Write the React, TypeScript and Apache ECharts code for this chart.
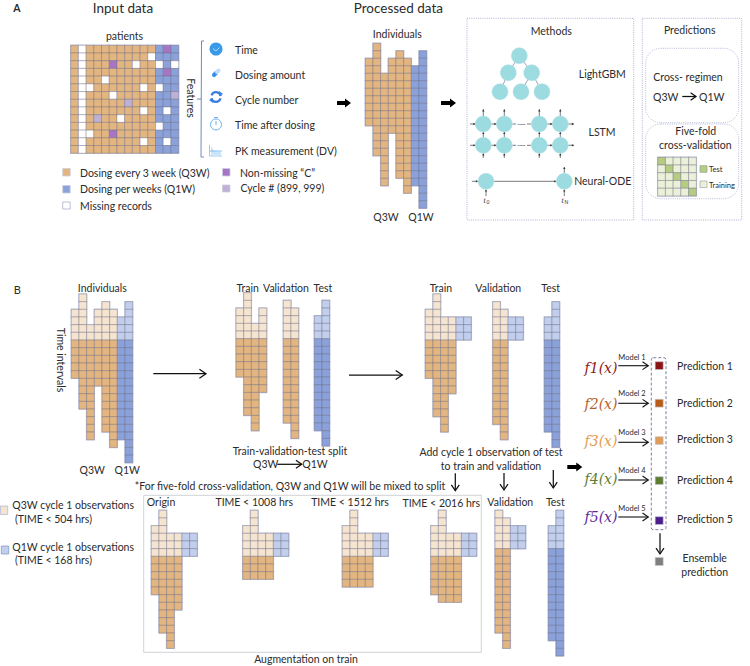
import React, { useEffect, useRef } from "react";
import * as echarts from "echarts";

// ---------- data ----------
const matrixRows = 14;
const matrixQ3WColumns = 11;
const matrixQ1WColumns = 3;
const matrixMissing = [[10,1],[8,2],[11,2],[13,2],[4,4],[2,5],[9,5],[11,5],[5,6],[9,8],[12,8],[6,9],[11,10],[2,11],[9,12],[12,12]];
const matrixMissingColumn = 1;
const matrixNonMissingC = [[12,0],[5,2],[12,3],[5,11]];
const matrixCycle = [[13,6],[7,7],[3,9]];

const allTops = [2,0,4,2,1,2,3,1];
const allBottoms = [11,15,19,12,18,20,19,22];
const splitTrainTops = [2,0,4,2];
const splitTrainBottoms = [11,16,18,13];
const splitValTops = [1,2];
const splitValBottoms = [17,19];
const splitTestTops = [3,1];
const splitTestBottoms = [18,20];
const addedTrainTops = [2,0,3,3];
const addedTrainBottoms = [11,16,18,13];
const addedValTops = [1,2];
const addedValBottoms = [17,19];
const addedTestTops = [3,1];
const addedTestBottoms = [18,20];
const originTops = [2,0,3,3];
const originBottoms = [11,16,18,13];
const t1008Bottoms = [9,9,9,9];
const t1512Bottoms = [10,10,10,10];
const t2016Bottoms = [11,12,12,12];
const finalValTops = [0,1];
const finalValBottoms = [16,18];
const finalTestTops = [2,0];
const finalTestBottoms = [17,19];
const foldSize = 5;

const featureLabels = ["Time","Dosing amount","Cycle number","Time after dosing","PK measurement (DV)"];
const modelLabels = ["Model 1","Model 2","Model 3","Model 4","Model 5"];
const modelFormulas = ["f1(x)","f2(x)","f3(x)","f4(x)","f5(x)"];
const predictionLabels = ["Prediction 1","Prediction 2","Prediction 3","Prediction 4","Prediction 5"];

// ---------- styles ----------
const ORANGE = "#E3B581", BLUE = "#8BA1D9", LORANGE = "#F5E4D0", LBLUE = "#C1CEEC";
const PURPLE = "#A874C4", LPURPLE = "#BFB0D6", WHITE = "#FFFFFF";
const TEXT = "#2b2b2b";
const FONT = "Lato";
const TEAL = "#9CDBE0";

type Cell = [number, number, number, number, string];
const cells: Cell[] = [];
function addCol(x: number, y0: number, ch: number, cw: number, top: number, bottom: number, split: number, dark: string, light: string) {
  for (let r = top; r < bottom; r++) cells.push([x, y0 + r * ch, cw, ch, r < split ? light : dark]);
}
function addBlock(x0: number, y0: number, ch: number, cw: number, tops: number[], bottoms: number[], nQ3: number, split: number) {
  tops.forEach((t, i) => addCol(x0 + i * cw, y0, ch, cw, t, bottoms[i], split, i < nQ3 ? ORANGE : BLUE, i < nQ3 ? LORANGE : LBLUE));
}
function addExtra(x0: number, y0: number, cw: number, nQ3: number, top: number, bottom: number) {
  for (let i = 0; i < 2; i++) addCol(x0 + (nQ3 + i) * cw, y0, cw, cw, top, bottom, 99, BLUE, LBLUE);
}

// Panel A matrix
const mx = 70.7, my = 45.3, mc = 7.71;
for (let c = 0; c < matrixQ3WColumns + matrixQ1WColumns; c++) for (let r = 0; r < matrixRows; r++) {
  let col = c < matrixQ3WColumns ? ORANGE : BLUE;
  if (c === matrixMissingColumn) col = WHITE;
  if (matrixMissing.some(m => m[0] === c && m[1] === r)) col = WHITE;
  if (matrixNonMissingC.some(m => m[0] === c && m[1] === r)) col = PURPLE;
  if (matrixCycle.some(m => m[0] === c && m[1] === r)) col = LPURPLE;
  cells.push([mx + c * mc, my + r * mc, mc, mc, col]);
}
const C = 7.67;
addBlock(365.3, 43.3, 7.5, 7.67, allTops, allBottoms, 6, -1);
addBlock(71.3, 294, C, C, allTops, allBottoms, 6, 6);
addBlock(236, 292.7, C, C, splitTrainTops, splitTrainBottoms, 4, 6);
addBlock(283.3, 292.7, C, C, splitValTops, splitValBottoms, 2, 6);
addBlock(314.3, 292.7, C, C, splitTestTops, splitTestBottoms, 0, 6);
addBlock(425.3, 294, C, C, addedTrainTops, addedTrainBottoms, 4, 6); addExtra(425.3, 294, C, 4, 3, 6);
addBlock(492.7, 294, C, C, addedValTops, addedValBottoms, 2, 6); addExtra(492.7, 294, C, 2, 3, 6);
addBlock(544.3, 294, C, C, addedTestTops, addedTestBottoms, 0, 6);
const by = 510.3;
addBlock(151.3, by, C, C, originTops, originBottoms, 4, 6); addExtra(151.3, by, C, 4, 3, 6);
addBlock(242.7, by, C, C, originTops, t1008Bottoms, 4, 6); addExtra(242.7, by, C, 4, 3, 6);
addBlock(342.3, by, C, C, originTops, t1512Bottoms, 4, 6); addExtra(342.3, by, C, 4, 3, 6);
addBlock(430.7, by, C, C, originTops, t2016Bottoms, 4, 6); addExtra(430.7, by, C, 4, 3, 6);
addBlock(495, by, C, C, finalValTops, finalValBottoms, 2, 5); addExtra(495, by, C, 2, 2, 5);
addBlock(548.3, by, C, C, finalTestTops, finalTestBottoms, 0, 5);

const foldCells: Cell[] = [];
for (let r = 0; r < foldSize; r++) for (let c = 0; c < foldSize; c++)
  foldCells.push([657.7 + c * 7.73, 157.3 + r * 7.73, 7.73, 7.73, r === c ? "#B5CC82" : "#EBF0D8"]);

// ---------- graphic helpers ----------
const g: any[] = [];
function T(text: string, x: number, y: number, size = 10.5, opt: any = {}) {
  const { align = "center", fill = TEXT, rotation = 0, weight = "normal", family = FONT, italic = false } = opt;
  g.push({ type: "text", x, y, rotation, style: { text, fill, align, verticalAlign: "middle", textAlign: align, textVerticalAlign: "middle",
    font: `${italic ? "italic " : ""}${weight} ${size}px ${family}` } });
}
function L(x1: number, y1: number, x2: number, y2: number, stroke = "#333", w = 1) {
  g.push({ type: "line", shape: { x1, y1, x2, y2 }, style: { stroke, lineWidth: w } });
}
function A(x1: number, y1: number, x2: number, y2: number, head = 7, stroke = "#111", w = 1.25) {
  L(x1, y1, x2, y2, stroke, w);
  const a = Math.atan2(y2 - y1, x2 - x1), sp = 0.6;
  g.push({ type: "polyline", shape: { points: [
    [x2 - head * Math.cos(a - sp), y2 - head * Math.sin(a - sp)], [x2, y2],
    [x2 - head * Math.cos(a + sp), y2 - head * Math.sin(a + sp)]] }, style: { stroke, lineWidth: w, fill: "none" } });
}
function SA(x1: number, y1: number, x2: number, y2: number) { // tiny solid arrow
  L(x1, y1, x2, y2, "#444", 0.7);
  const a = Math.atan2(y2 - y1, x2 - x1), h = 2.4, sp = 0.5;
  g.push({ type: "polygon", shape: { points: [[x2, y2],
    [x2 - h * Math.cos(a - sp), y2 - h * Math.sin(a - sp)], [x2 - h * Math.cos(a + sp), y2 - h * Math.sin(a + sp)]] }, style: { fill: "#333" } });
}
function BA(x1: number, x2: number, y: number) { // block arrow
  g.push({ type: "polygon", shape: { points: [[x1, y - 2], [x2 - 6, y - 2], [x2 - 6, y - 4.5], [x2, y], [x2 - 6, y + 4.5], [x2 - 6, y + 2], [x1, y + 2]] }, style: { fill: "#000" } });
}
function R(x: number, y: number, w: number, h: number, fill: string, stroke = "#A9B0CC", lw = 0.8, r = 0, dash: any = null) {
  g.push({ type: "rect", shape: { x, y, width: w, height: h, r }, style: { fill, stroke, lineWidth: lw, lineDash: dash } });
}
function CI(cx: number, cy: number, r = 8) {
  g.push({ type: "circle", shape: { cx, cy, r }, style: { fill: TEAL, stroke: "#B5E3E7", lineWidth: 0.5 } });
}

// ---------- panel A ----------
T("A", 17, 7.5, 10.5, { weight: "bold" });
T("Input data", 123, 7.5, 13.5);
T("patients", 124.5, 35.5, 10.5);
T("Features", 190.5, 98, 10.5, { rotation: -Math.PI / 2 });
g.push({ type: "polyline", shape: { points: [[204, 41], [201.5, 41], [201, 157], [204, 157]] }, style: { stroke: "#5B7FB5", lineWidth: 0.9, fill: "none" } });
L(197, 99, 201, 99, "#5B7FB5", 0.9);
[49.5, 75, 100, 125, 151].forEach((y, i) => T(featureLabels[i], 235, y, 10.5, { align: "left" }));
// icons
g.push({ type: "circle", shape: { cx: 216, cy: 49, r: 6.5 }, style: { fill: "#3A9AE8" } });
g.push({ type: "polyline", shape: { points: [[213, 48.5], [216, 51], [219.5, 47.5]] }, style: { stroke: "#CFE8FB", lineWidth: 0.8, fill: "none" } });
g.push({ type: "line", shape: { x1: 214, y1: 75, x2: 216, y2: 73 }, style: { stroke: "#3A8FE8", lineWidth: 4, lineCap: "round" } });
g.push({ type: "line", shape: { x1: 217, y1: 72, x2: 218.5, y2: 70.5 }, style: { stroke: "#BFDDF8", lineWidth: 4, lineCap: "round" } });
g.push({ type: "arc", shape: { cx: 216, cy: 97, r: 4.8, startAngle: 3.5, endAngle: 6.1 }, style: { stroke: "#3A7FE0", lineWidth: 2.2, fill: "none" } });
g.push({ type: "arc", shape: { cx: 216, cy: 97, r: 4.8, startAngle: 0.3, endAngle: 2.9 }, style: { stroke: "#3A7FE0", lineWidth: 2.2, fill: "none" } });
g.push({ type: "polygon", shape: { points: [[219, 91], [223, 94], [219, 96]] }, style: { fill: "#3A7FE0" } });
g.push({ type: "polygon", shape: { points: [[213, 98], [209, 100], [213, 103]] }, style: { fill: "#3A7FE0" } });
g.push({ type: "circle", shape: { cx: 216, cy: 124.5, r: 5.5 }, style: { fill: "#FFF", stroke: "#6AAEF0", lineWidth: 1 } });
L(214, 117.5, 218, 117.5, "#6AAEF0", 1);
L(216, 121, 216, 125, "#6AAEF0", 1);
g.push({ type: "polygon", shape: { points: [[211, 155], [211, 146], [214, 151], [221, 152], [221, 155]] }, style: { fill: "#CBE5F8" } });
g.push({ type: "polyline", shape: { points: [[209.5, 145], [209.5, 156], [222, 156]] }, style: { stroke: "#8CC4EE", lineWidth: 0.9, fill: "none" } });
L(210, 151, 222, 151, "#6AAEF0", 0.8);
// legend
R(62.7, 168.5, 7.5, 7.5, ORANGE, "#C9CEDF"); R(62.7, 185.5, 7.5, 7.5, BLUE, "#C9CEDF"); R(62.7, 202, 7.5, 7, WHITE, "#A9B0CC");
R(222.5, 168.5, 7.5, 7.5, PURPLE, "#C9CEDF"); R(222.5, 185, 7.5, 7, LPURPLE, "#C9CEDF");
T("Dosing every 3 week (Q3W)", 80, 172.5, 10.5, { align: "left" });
T("Dosing per weeks (Q1W)", 80, 189, 10.5, { align: "left" });
T("Missing records", 80, 205.5, 10.5, { align: "left" });
T("Non-missing “C”", 240, 172.5, 10.5, { align: "left" });
T("Cycle # (899, 999)", 240.5, 188, 10.5, { align: "left" });
BA(337, 351, 103); BA(441, 456, 103);
T("Processed data", 398.3, 7.5, 13.5);
T("Individuals", 397.3, 34, 10.5);
T("Q3W", 386, 217, 10.5); T("Q1W", 421, 217, 10.5);
// Methods
const DOT = [1, 1.2];
R(467, 18.3, 166.7, 201.7, "none", "#9AA0C8", 0.8, 0, DOT);
R(642.3, 18.3, 99.4, 201.7, "none", "#9AA0C8", 0.8, 0, DOT);
T("Methods", 551.3, 30.5, 10.5); T("Predictions", 689.7, 30, 10.5);
[[519.3, 55.7, 508.3, 72.7], [519.3, 55.7, 531.7, 72.7], [508.3, 72.7, 500, 91.7], [531.7, 72.7, 521, 91.7], [531.7, 72.7, 542, 91.7]].forEach(e => L(e[0], e[1], e[2], e[3], "#6E7F9E", 0.7));
[[519.3, 55.7], [508.3, 72.7], [531.7, 72.7], [500, 91.7], [521, 91.7], [542, 91.7]].forEach(c => CI(c[0], c[1]));
T("LightGBM", 602.3, 73.5, 10.5);
// LSTM
const lx = [483.3, 504.3, 539.3, 560.3], ly = [124, 145.3];
ly.forEach(y => {
  SA(470, y, 475.5, y);
  SA(491.3, y, 496.5, y);
  SA(547.3, y, 552.5, y);
  SA(568.3, y, 574, y);
  L(512.3, y, 516, y, "#444", 0.7);
  L(527, y, 531.3, y, "#444", 0.7);
  T("·····", 521.5, y - 0.5, 6, {});
});
lx.forEach(x => { SA(x, 116, x, 109.3); SA(x, 137.3, x, 132); SA(x, 158, x, 153.3); });
lx.forEach(x => ly.forEach(y => CI(x, y)));
T("LSTM", 602, 132, 10.5);
// Neural ODE
SA(472, 181.3, 478, 181.3);
SA(494, 181.3, 556.3, 181.3);
SA(486, 196, 486, 189.5); SA(564.3, 196, 564.3, 189.5); SA(564.3, 173, 564.3, 167);
CI(486, 181.3); CI(564.3, 181.3);
T("t", 484.5, 200, 7.5, { family: "Liberation Serif", italic: true });
T("0", 488, 201.5, 5, {});
T("t", 562.5, 200, 7.5, { family: "Liberation Serif", italic: true });
T("N", 566.3, 201.5, 5, {});
T("Neural-ODE", 602.7, 181, 10.5);
// Predictions
R(645.7, 48.3, 93, 74.4, "none", "#A4ABD0", 0.8, 15, DOT);
R(645.7, 124, 93, 74.7, "none", "#A4ABD0", 0.8, 15, DOT);
T("Cross- regimen", 688, 77, 10.5);
T("Q3W", 665.7, 96.5, 10.5); T("Q1W", 711.7, 96.5, 10.5);
A(682.3, 96.5, 696, 96.5, 6.5);
T("Five-fold", 695.7, 131, 10.5); T("cross-validation", 695.3, 145, 10.5);
R(700, 165.7, 7, 6.6, "#B5CC82", "#99A8A0"); R(700, 181, 7, 6.6, "#EBF0D8", "#A9B0B0");
T("Test", 709, 169, 7.5, { align: "left" }); T("Training", 709, 185, 7.5, { align: "left" });

// ---------- panel B ----------
T("B", 17.3, 289, 11);
T("Individuals", 102.3, 288, 10.5);
T("Time intervals", 61, 360, 10.5, { rotation: -Math.PI / 2 });
T("Q3W", 92.3, 470.3, 10.5); T("Q1W", 127.3, 470.3, 10.5);
A(153.3, 373.7, 206, 373.7, 8);
T("Train", 247.7, 288, 10.5); T("Validation", 286, 288, 10.5, { }); T("Test", 323, 288, 10.5);
T("Train-validation-test split", 290, 450.7, 10.5);
T("Q3W", 265.7, 464.3, 10.5); T("Q1W", 315, 464.3, 10.5);
A(277.3, 464.3, 301.7, 464.3, 7);
T("*For five-fold cross-validation, Q3W and Q1W will be mixed to split", 290, 486, 10.5);
A(349, 375, 402.3, 375, 8);
T("Train", 441, 288, 10.5); T("Validation", 498.3, 288, 10.5); T("Test", 550.7, 288, 10.5);
T("Add cycle 1 observation of test", 491, 451.7, 10.5);
T("to train and validation", 491, 465.7, 10.5);
A(455.3, 473.3, 455.3, 490.7); A(504, 473, 504, 490); A(553.3, 470, 553.3, 488);
BA(567.3, 582.3, 467);
R(143.7, 495.3, 337.6, 157, "none", "#C4C6CC", 0.8);
T("Origin", 161, 502.3, 10.5);
T("TIME < 1008 hrs", 254.3, 502, 10.5); T("TIME < 1512 hrs", 350, 502, 10.5); T("TIME < 2016 hrs", 441.3, 503, 10.5);
T("Validation", 510.3, 502, 10.5); T("Test", 555.3, 502, 10.5);
T("Augmentation on train", 306, 659, 10.5);
R(0.5, 506, 7.2, 8.5, LORANGE, "#B5BBD4"); R(1.3, 546, 7.4, 8, LBLUE, "#8E9CC6");
T("Q3W cycle 1 observations", 12.3, 505, 10.5, { align: "left" });
T("(TIME < 504 hrs)", 15, 519, 10.5, { align: "left" });
T("Q1W cycle 1 observations", 12.3, 546.7, 10.5, { align: "left" });
T("(TIME < 168 hrs)", 15, 560.3, 10.5, { align: "left" });
// models
const fColors = ["#8B1A1A", "#B85F1F", "#E39C50", "#5F7D32", "#5E2A9E"];
const sqColors = ["#8B1414", "#B85C18", "#DE9C5A", "#5F7D32", "#4B1E8C"];
const fY = [367.7, 404, 441.3, 478.7, 517], aY = [365.7, 403.3, 442.3, 480, 517];
const mY = [357.3, 393.7, 432.7, 470.3, 508], sY = [361.7, 399.3, 436.7, 476.7, 516.7], pY = [366.3, 403.3, 439.3, 479.7, 519];
modelFormulas.forEach((f, i) => {
  T(f, 601, fY[i], 14, { family: "DejaVu Serif", italic: true, fill: fColors[i] });
  A(618.3, aY[i], 648.3, aY[i], 7, "#111", 1.1);
  T(modelLabels[i], 632, mY[i], 7.5);
  R(655.2, sY[i], 8, 7.8, sqColors[i], "#C4C8D4", 0.6);
  T(predictionLabels[i], 705, pY[i], 10.5);
});
R(651.3, 357.7, 14.7, 172, "none", "#5A6090", 0.8, 2, [3, 2]);
A(660, 533.3, 660, 554, 7);
R(655.2, 557.5, 8, 8, "#7F7F7F", "#C4C8D4", 0.6);
T("Ensemble", 704.7, 557.7, 10.5); T("prediction", 704.7, 572, 10.5);

// ---------- component ----------
function cellSeries(data: Cell[], halo: boolean) {
  return {
    type: "custom", coordinateSystem: "cartesian2d", silent: true, z: halo ? 1 : 2, clip: false, data,
    renderItem: (_: any, api: any) => {
      const p = api.coord([api.value(0), api.value(1)]);
      const q = api.coord([api.value(0) + api.value(2), api.value(1) + api.value(3)]);
      const fill = data[_.dataIndex][4];
      return { type: "rect", shape: { x: p[0], y: p[1], width: q[0] - p[0], height: q[1] - p[1] },
        style: halo ? { fill: "#B4B9D4", stroke: "#C6CADF", lineWidth: 1.5 } : { fill, stroke: "rgba(105,105,125,0.6)", lineWidth: 0.6 } };
    },
  };
}

export default function App() {
  const ref = useRef<HTMLDivElement>(null);
  useEffect(() => {
    const chart = echarts.init(ref.current!, undefined, { renderer: "svg" });
    const all = cells.concat(foldCells);
    chart.setOption({
      animation: false,
      backgroundColor: "#fff",
      grid: { left: 0, right: 0, top: 0, bottom: 0 },
      xAxis: { type: "value", min: 0, max: 750, show: false },
      yAxis: { type: "value", min: 0, max: 666, inverse: true, show: false },
      series: [cellSeries(all, true), cellSeries(all, false)],
      graphic: { elements: g },
    });
    return () => chart.dispose();
  }, []);
  return <div ref={ref} style={{ position: "absolute", left: 0, top: 0, width: 750, height: 666 }} />;
}
